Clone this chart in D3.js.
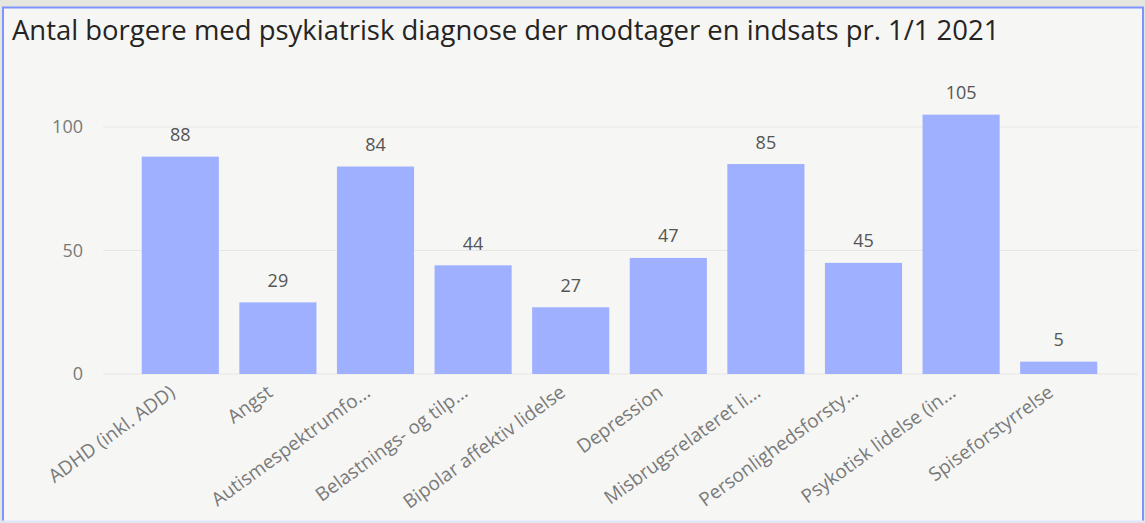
<!DOCTYPE html>
<html>
<head>
<meta charset="utf-8">
<script src="https://cdn.jsdelivr.net/npm/d3@7"></script>
<style>
  html, body { margin: 0; padding: 0; background: #e6e6e1; }
  svg { display: block; }
</style>
</head>
<body>
<svg id="chart" width="1145" height="523"></svg>
<script>
const title = "Antal borgere med psykiatrisk diagnose der modtager en indsats pr. 1/1 2021";
const categories = ["ADHD (inkl. ADD)", "Angst", "Autismespektrumfo...", "Belastnings- og tilp...", "Bipolar affektiv lidelse", "Depression", "Misbrugsrelateret li...", "Personlighedsforsty...", "Psykotisk lidelse (in...", "Spiseforstyrrelse"];
const values = [88, 29, 84, 44, 27, 47, 85, 45, 105, 5];
const yTicks = [0, 50, 100];

const svg = d3.select("#chart");
const W = 1145, H = 523;
const font = "'Open Sans', 'Noto Sans', sans-serif";

// card
svg.append("rect").attr("x", 0).attr("y", 0).attr("width", W).attr("height", H).attr("fill", "#e6e6e1");
svg.append("rect").attr("x", 2).attr("y", 7).attr("width", 1141).attr("height", 514)
  .attr("fill", "#f6f6f4");
// borders
svg.append("line").attr("x1", 2).attr("x2", 1144).attr("y1", 7.5).attr("y2", 7.5).attr("stroke", "#7d94ff").attr("stroke-width", 2);
svg.append("line").attr("x1", 3).attr("x2", 3).attr("y1", 7).attr("y2", 522).attr("stroke", "#7d94ff").attr("stroke-width", 2);
svg.append("line").attr("x1", 1143).attr("x2", 1143).attr("y1", 7).attr("y2", 522).attr("stroke", "#7d94ff").attr("stroke-width", 2);
svg.append("line").attr("x1", 2).attr("x2", 1144).attr("y1", 521.5).attr("y2", 521.5).attr("stroke", "#dfe3fb").attr("stroke-width", 2);

// title fitted to reference width
const t = svg.append("text").attr("x", 12).attr("y", 40)
  .attr("font-family", font).attr("font-size", 24).attr("fill", "#252423").text(title);
const tw = t.node().getComputedTextLength();
t.attr("font-size", 24 * 988 / tw);

const x = d3.scaleBand().domain(categories).range([131.5, 1107.5]).paddingInner(0.21).paddingOuter(0.105);
const y = d3.scaleLinear().domain([0, 50]).range([374, 250.5]);

// gridlines
svg.append("g").selectAll("line").data(yTicks).join("line")
  .attr("x1", 103).attr("x2", 1138)
  .attr("y1", d => y(d)).attr("y2", d => y(d))
  .attr("stroke", "#e6e6e3").attr("stroke-width", 1.2);

// y axis
const yAxis = svg.append("g").attr("transform", "translate(83,0)")
  .call(d3.axisLeft(y).tickValues(yTicks).tickSize(0).tickPadding(0));
yAxis.select(".domain").remove();
yAxis.selectAll("text").attr("font-family", font).attr("font-size", 18).attr("fill", "#7a7a7a");

// bars
svg.append("g").selectAll("rect").data(values).join("rect")
  .attr("x", (d, i) => x(categories[i])).attr("width", x.bandwidth())
  .attr("y", d => y(d)).attr("height", d => y(0) - y(d))
  .attr("fill", "#9eb0ff");

// value labels
svg.append("g").selectAll("text").data(values).join("text")
  .attr("x", (d, i) => x(categories[i]) + x.bandwidth() / 2)
  .attr("y", d => y(d) - 15.5)
  .attr("text-anchor", "middle")
  .attr("font-family", font).attr("font-size", 18).attr("fill", "#555")
  .text(d => d);

// x axis
const xAxis = svg.append("g").attr("transform", "translate(0,380)")
  .call(d3.axisBottom(x).tickSize(0).tickPadding(0));
xAxis.select(".domain").remove();
xAxis.selectAll("text")
  .attr("font-family", font).attr("font-size", 19).attr("fill", "#7a7a7a")
  .attr("text-anchor", "end").attr("dy", 0)
  .attr("transform", "translate(-4,15) rotate(-36)");
</script>
</body>
</html>
